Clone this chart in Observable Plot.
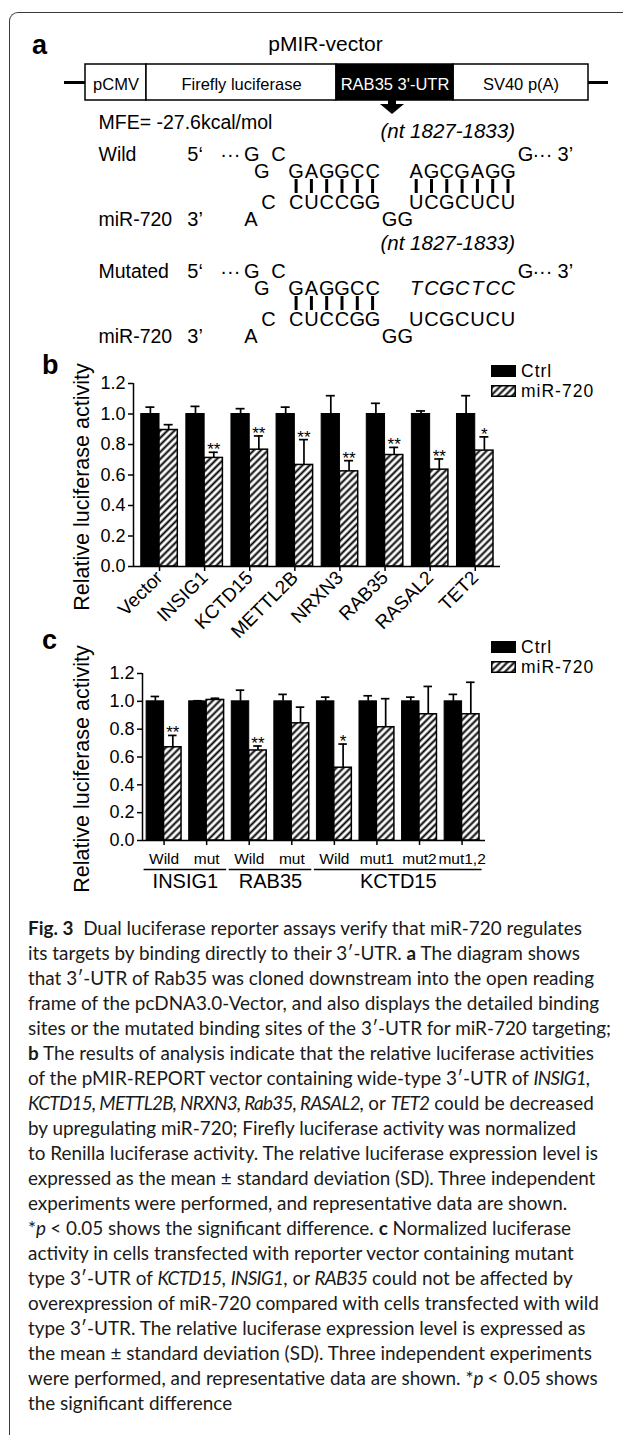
<!DOCTYPE html>
<html><head><meta charset="utf-8">
<script src="https://cdn.jsdelivr.net/npm/d3@7"></script>
<script src="https://cdn.jsdelivr.net/npm/@observablehq/plot@0.6"></script>
<style>
html,body{margin:0;padding:0;background:#fff;}
#page{position:relative;width:623px;height:1435px;overflow:hidden;font-family:"Liberation Sans",Arial,Helvetica,sans-serif;color:#000;}
#frame{position:absolute;left:9px;top:12px;width:700px;height:1500px;border-left:1px solid #3a3a3a;border-top:1px solid #3a3a3a;border-top-left-radius:9px;}
.plt{position:absolute;left:0;}
.panel{position:absolute;font-weight:bold;font-size:27px;line-height:1;}
.legend{position:absolute;font-size:17.5px;letter-spacing:1px;}
.legend .row{display:flex;align-items:center;height:20.2px;line-height:20.2px;}
.legend svg{margin-right:5px;}
#caption{position:absolute;left:28px;top:915px;font-family:Lato,"Open Sans",sans-serif;font-size:18.9px;line-height:25px;white-space:nowrap;color:#1a1a1a;}
#caption i{letter-spacing:-0.7px;}
</style></head><body>
<div id="page">
  <div id="frame"></div>
  <svg width="0" height="0" style="position:absolute;left:0;top:0">
    <defs>
      <pattern id="hatch" patternUnits="userSpaceOnUse" width="5" height="5" patternTransform="rotate(45)">
        <rect width="5" height="5" fill="white"></rect>
        <line x1="2.5" y1="-1" x2="2.5" y2="6" stroke="black" stroke-width="2"></line>
      </pattern>
    </defs>
  </svg>
  <div id="pa" class="plt" style="top:0"></div>
  <div id="pb" class="plt" style="top:340px"></div>
  <div id="pc" class="plt" style="top:620px"></div>
  <div class="panel" style="left:32px;top:32px">a</div>
  <div class="panel" style="left:42px;top:352px">b</div>
  <div class="panel" style="left:42px;top:627px">c</div>
  <div class="legend" style="left:491px;top:361px">
    <div class="row"><svg width="25" height="12"><rect x="0.5" y="0.5" width="24" height="11" fill="black" stroke="black"/></svg><span>Ctrl</span></div>
    <div class="row"><svg width="25" height="12"><rect x="0.75" y="0.75" width="23.5" height="10.5" fill="url(#hatch)" stroke="black" stroke-width="1.5"/></svg><span>miR-720</span></div>
  </div>
  <div class="legend" style="left:491px;top:637px">
    <div class="row"><svg width="25" height="12"><rect x="0.5" y="0.5" width="24" height="11" fill="black" stroke="black"/></svg><span>Ctrl</span></div>
    <div class="row"><svg width="25" height="12"><rect x="0.75" y="0.75" width="23.5" height="10.5" fill="url(#hatch)" stroke="black" stroke-width="1.5"/></svg><span>miR-720</span></div>
  </div>
  <div id="caption">
    <div><b>Fig. 3</b>&nbsp; Dual luciferase reporter assays verify that miR-720 regulates</div>
    <div>its targets by binding directly to their 3′-UTR. <b>a</b> The diagram shows</div>
    <div>that 3′-UTR of Rab35 was cloned downstream into the open reading</div>
    <div>frame of the pcDNA3.0-Vector, and also displays the detailed binding</div>
    <div>sites or the mutated binding sites of the 3′-UTR for miR-720 targeting;</div>
    <div><b>b</b> The results of analysis indicate that the relative luciferase activities</div>
    <div>of the pMIR-REPORT vector containing wide-type 3′-UTR of <i>INSIG1,</i></div>
    <div><i>KCTD15, METTL2B, NRXN3, Rab35, RASAL2,</i> or <i>TET2</i> could be decreased</div>
    <div>by upregulating miR-720; Firefly luciferase activity was normalized</div>
    <div>to Renilla luciferase activity. The relative luciferase expression level is</div>
    <div>expressed as the mean ± standard deviation (SD). Three independent</div>
    <div>experiments were performed, and representative data are shown.</div>
    <div>*<i>p</i> &lt; 0.05 shows the significant difference. <b>c</b> Normalized luciferase</div>
    <div>activity in cells transfected with reporter vector containing mutant</div>
    <div>type 3′-UTR of <i>KCTD15</i>, <i>INSIG1</i>, or <i>RAB35</i> could not be affected by</div>
    <div>overexpression of miR-720 compared with cells transfected with wild</div>
    <div>type 3′-UTR. The relative luciferase expression level is expressed as</div>
    <div>the mean ± standard deviation (SD). Three independent experiments</div>
    <div>were performed, and representative data are shown. *<i>p</i> &lt; 0.05 shows</div>
    <div>the significant difference</div>
  </div>
</div>
<script>
const FONT = '"Liberation Sans", Arial, Helvetica, sans-serif';

// ---------- Panel b data ----------
const genesB = ["Vector", "INSIG1", "KCTD15", "METTL2B", "NRXN3", "RAB35", "RASAL2", "TET2"];
const ctrlB = [1.00, 1.00, 1.00, 1.00, 1.00, 1.00, 1.00, 1.00];
const ctrlSdB = [0.045, 0.05, 0.035, 0.045, 0.12, 0.07, 0.02, 0.12];
const mirB = [0.895, 0.712, 0.766, 0.666, 0.624, 0.731, 0.635, 0.76];
const mirSdB = [0.035, 0.037, 0.09, 0.166, 0.07, 0.05, 0.07, 0.09];
const sigB = ["", "**", "**", "**", "**", "**", "**", "*"];

// ---------- Panel c data ----------
const condC = ["Wild", "mut", "Wild", "mut", "Wild", "mut1", "mut2", "mut1,2"];
const geneC = ["INSIG1", "INSIG1", "RAB35", "RAB35", "KCTD15", "KCTD15", "KCTD15", "KCTD15"];
const ctrlC = [1.00, 1.00, 1.00, 1.00, 1.00, 1.00, 1.00, 1.00];
const ctrlSdC = [0.035, 0.004, 0.08, 0.05, 0.03, 0.04, 0.03, 0.05];
const mirC = [0.67, 1.01, 0.647, 0.842, 0.523, 0.814, 0.907, 0.907];
const mirSdC = [0.085, 0.012, 0.032, 0.116, 0.17, 0.205, 0.2, 0.23];
const sigC = ["**", "", "**", "", "*", "", "", ""];

const yTicks = [0, 0.2, 0.4, 0.6, 0.8, 1.0, 1.2];
const yTitle = "Relative luciferase activity";
const seriesNames = ["Ctrl", "miR-720"];

// ---------- Panel a diagram data ----------
const vectorName = "pMIR-vector";
const constructParts = [
  {name: "pCMV", len: 61},
  {name: "Firefly luciferase", len: 190},
  {name: "RAB35 3'-UTR", len: 117, utr: true},
  {name: "SV40 p(A)", len: 135}
];
const mfeText = "MFE= -27.6kcal/mol";
const siteText = "(nt 1827-1833)";
const sites = [
  {label: "Wild", utr2: "AGCGAGG", paired2: true},
  {label: "Mutated", utr2: "TCGCTCC", paired2: false}
];
const seedUtr = "GAGGCC", seedMir = "CUCCGG";
const mir2 = "UCGCUCU";

// ---------------- Panel a ----------------
(function () {
  const L = {x0: 85, boxTop: 64, boxBot: 100, lineL: 64, lineR: 608, lineY: 82};
  let acc = L.x0;
  const parts = constructParts.map(p => {
    const d = {...p, x1: acc, x2: acc + p.len};
    acc += p.len;
    d.mid = (d.x1 + d.x2) / 2;
    return d;
  });
  const colX = c => 295.6 + 15.3 * c;
  const blocks = [160, 277];
  const chars = [], bars = [], labels = [];
  sites.forEach((s, k) => {
    const B = blocks[k];
    labels.push({t: s.label, x: 98, y: B});
    labels.push({t: "miR-720", x: 98, y: B + 65});
    [["5‘", -6.6], ["···", -4.3], ["G", -2.9], ["C", -1.15], ["G", 15.0], ["···", 16.1], ["3’", 17.6]]
      .forEach(([t, c]) => chars.push({t, c, y: B}));
    chars.push({t: "G", c: -2.25, y: B + 17});
    [...seedUtr].forEach((t, j) => chars.push({t, c: j, y: B + 17}));
    [...s.utr2].forEach((t, j) => chars.push({t, c: 7.85 + j, y: B + 17, it: !s.paired2}));
    [...seedMir].forEach((t, j) => { chars.push({t, c: j, y: B + 48}); bars.push({c: j, y1: B + 19, y2: B + 33}); });
    chars.push({t: "C", c: -1.8, y: B + 48});
    [...mir2].forEach((t, j) => { chars.push({t, c: 7.85 + j, y: B + 48}); if (s.paired2) bars.push({c: 7.85 + j, y1: B + 19, y2: B + 33}); });
    chars.push({t: "3’", c: -6.6, y: B + 65});
    chars.push({t: "A", c: -2.95, y: B + 65});
    chars.push({t: "GG", c: 6.62, y: B + 65});
  });

  const plot = Plot.plot({
    width: 623, height: 350, margin: 0,
    x: {type: "identity", axis: null}, y: {type: "identity", axis: null},
    style: {fontFamily: FONT, fontSize: "19px", color: "black", background: "transparent", overflow: "visible"},
    marks: [
      Plot.ruleY([L.lineY], {x1: L.lineL, x2: L.lineR, strokeWidth: 3}),
      Plot.rect(parts.filter(d => !d.utr), {x1: "x1", x2: "x2", y1: L.boxTop, y2: L.boxBot, fill: "white", stroke: "black", strokeWidth: 1.5}),
      Plot.rect(parts.filter(d => d.utr), {x1: "x1", x2: "x2", y1: L.boxTop, y2: L.boxBot, fill: "black", stroke: "black", strokeWidth: 1.5}),
      Plot.text(parts.filter(d => !d.utr), {x: "mid", y: 89, text: "name", lineAnchor: "bottom", fontSize: 16.5, fill: "black"}),
      Plot.text(parts.filter(d => d.utr), {x: "mid", y: 89, text: "name", lineAnchor: "bottom", fontSize: 16.5, fill: "white"}),
      Plot.text([vectorName], {x: 325, y: 50, lineAnchor: "bottom", fontSize: 21}),
      Plot.rect([0], {x1: 388, x2: 396, y1: 100, y2: 105, fill: "black"}),
      Plot.areaY([{x: 380, a: 104, b: 104}, {x: 392, a: 104, b: 114}, {x: 404, a: 104, b: 104}], {x: "x", y1: "a", y2: "b", fill: "black"}),
      Plot.text([mfeText], {x: 98, y: 128, textAnchor: "start", lineAnchor: "bottom", fontSize: 19.5}),
      Plot.text([siteText, siteText], {x: 380, y: (d, i) => [137, 249][i], textAnchor: "start", lineAnchor: "bottom", fontSize: 20.5, fontStyle: "italic"}),
      Plot.text(labels, {x: "x", y: "y", text: "t", textAnchor: "start", lineAnchor: "bottom", fontSize: 19.5}),
      Plot.text(chars.filter(d => !d.it), {x: d => colX(d.c), y: "y", text: "t", lineAnchor: "bottom", fontSize: 20}),
      Plot.text(chars.filter(d => d.it), {x: d => colX(d.c), y: "y", text: "t", lineAnchor: "bottom", fontSize: 20, fontStyle: "italic"}),
      Plot.ruleX(bars, {x: d => colX(d.c), y1: "y1", y2: "y2", strokeWidth: 3})
    ]
  });
  document.getElementById("pa").appendChild(plot);
})();

// ---------------- bar chart helper ----------------
function barChart(cfg) {
  const rows = [];
  cfg.labels.forEach((lab, i) => {
    rows.push({i, s: seriesNames[0], v: cfg.ctrl[i], sd: cfg.ctrlSd[i], sig: ""});
    rows.push({i, s: seriesNames[1], v: cfg.mir[i], sd: cfg.mirSd[i], sig: cfg.sig[i]});
  });
  const bw = cfg.bw, cap = 0.1;
  const isC = d => d.s === seriesNames[0];
  const x1 = d => isC(d) ? d.i - bw : d.i;
  const x2 = d => isC(d) ? d.i : d.i + bw;
  const xc = d => isC(d) ? d.i - bw / 2 : d.i + bw / 2;
  const marks = [
    Plot.rectY(rows.filter(isC), {x1, x2, y1: 0, y2: "v", fill: "black", stroke: "black", strokeWidth: 1}),
    Plot.rectY(rows.filter(d => !isC(d)), {x1, x2, y1: 0, y2: "v", fill: "url(#hatch)", stroke: "black", strokeWidth: 1.5}),
    Plot.ruleX(rows, {x: xc, y1: "v", y2: d => d.v + d.sd, strokeWidth: 1.7}),
    Plot.ruleY(rows, {y: d => d.v + d.sd, x1: d => xc(d) - cap, x2: d => xc(d) + cap, strokeWidth: 1.7}),
    Plot.text(rows.filter(d => d.sig), {x: xc, y: d => d.v + d.sd, text: "sig", lineAnchor: "bottom", dy: 3, fontSize: 17}),
    Plot.ruleY([0], {strokeWidth: 1.5}),
    Plot.ruleX([cfg.xDomain[0]], {strokeWidth: 1.5}),
    Plot.axisY({ticks: yTicks, tickFormat: d3.format(".1f"), tickSize: 5, tickPadding: 3, fontSize: 18, strokeWidth: 1.5, label: null}),
    Plot.axisX({ticks: d3.range(cfg.labels.length), tickFormat: i => cfg.labels[i], tickRotate: cfg.rotate, tickSize: 5, tickPadding: cfg.tickPad, fontSize: cfg.tickFont, strokeWidth: 1.5, label: null}),
    Plot.text([yTitle], {frameAnchor: "left", textAnchor: "middle", lineAnchor: "middle", rotate: -90, dx: cfg.titleDx, dy: 12, fontSize: 21.5})
  ].concat(cfg.extra ? cfg.extra(rows) : []);
  return Plot.plot({
    width: 623, height: cfg.height,
    marginLeft: cfg.ml, marginRight: 623 - cfg.xr, marginTop: cfg.mt, marginBottom: cfg.mb,
    x: {domain: cfg.xDomain, range: [cfg.ml, cfg.xr]},
    y: {domain: [0, 1.2]},
    style: {fontFamily: FONT, fontSize: "18px", color: "black", background: "transparent", overflow: "visible"},
    marks
  });
}

// ---------------- Panel b ----------------
document.getElementById("pb").appendChild(barChart({
  labels: genesB, ctrl: ctrlB, ctrlSd: ctrlSdB, mir: mirB, mirSd: mirSdB, sig: sigB,
  bw: 0.405, xDomain: [-0.577, 7.56], ml: 133, xr: 500, height: 310, mt: 43, mb: 84,
  rotate: -45, tickPad: 3, tickFont: 19, titleDx: -51
}));

// ---------------- Panel c ----------------
const geneGroups = [];
geneC.forEach((g, i) => {
  const last = geneGroups[geneGroups.length - 1];
  if (last && last.name === g) last.last = i; else geneGroups.push({name: g, first: i, last: i});
});
document.getElementById("pc").appendChild(barChart({
  labels: condC, ctrl: ctrlC, ctrlSd: ctrlSdC, mir: mirC, mirSd: mirSdC, sig: sigC,
  bw: 0.41, xDomain: [-0.507, 7.55], ml: 142, xr: 485, height: 290, mt: 53, mb: 70,
  rotate: 0, tickPad: 7, tickFont: 15.5, titleDx: -60,
  extra: () => [
    Plot.ruleY(geneGroups, {y: 0, x1: d => d.first - 0.47, x2: d => d.last + 0.47, dy: 29, strokeWidth: 1.3}),
    Plot.text(geneGroups, {x: d => (d.first + d.last) / 2, y: 0, text: "name", dy: 47, lineAnchor: "bottom", fontSize: 20})
  ]
}));
</script>
</body></html>
